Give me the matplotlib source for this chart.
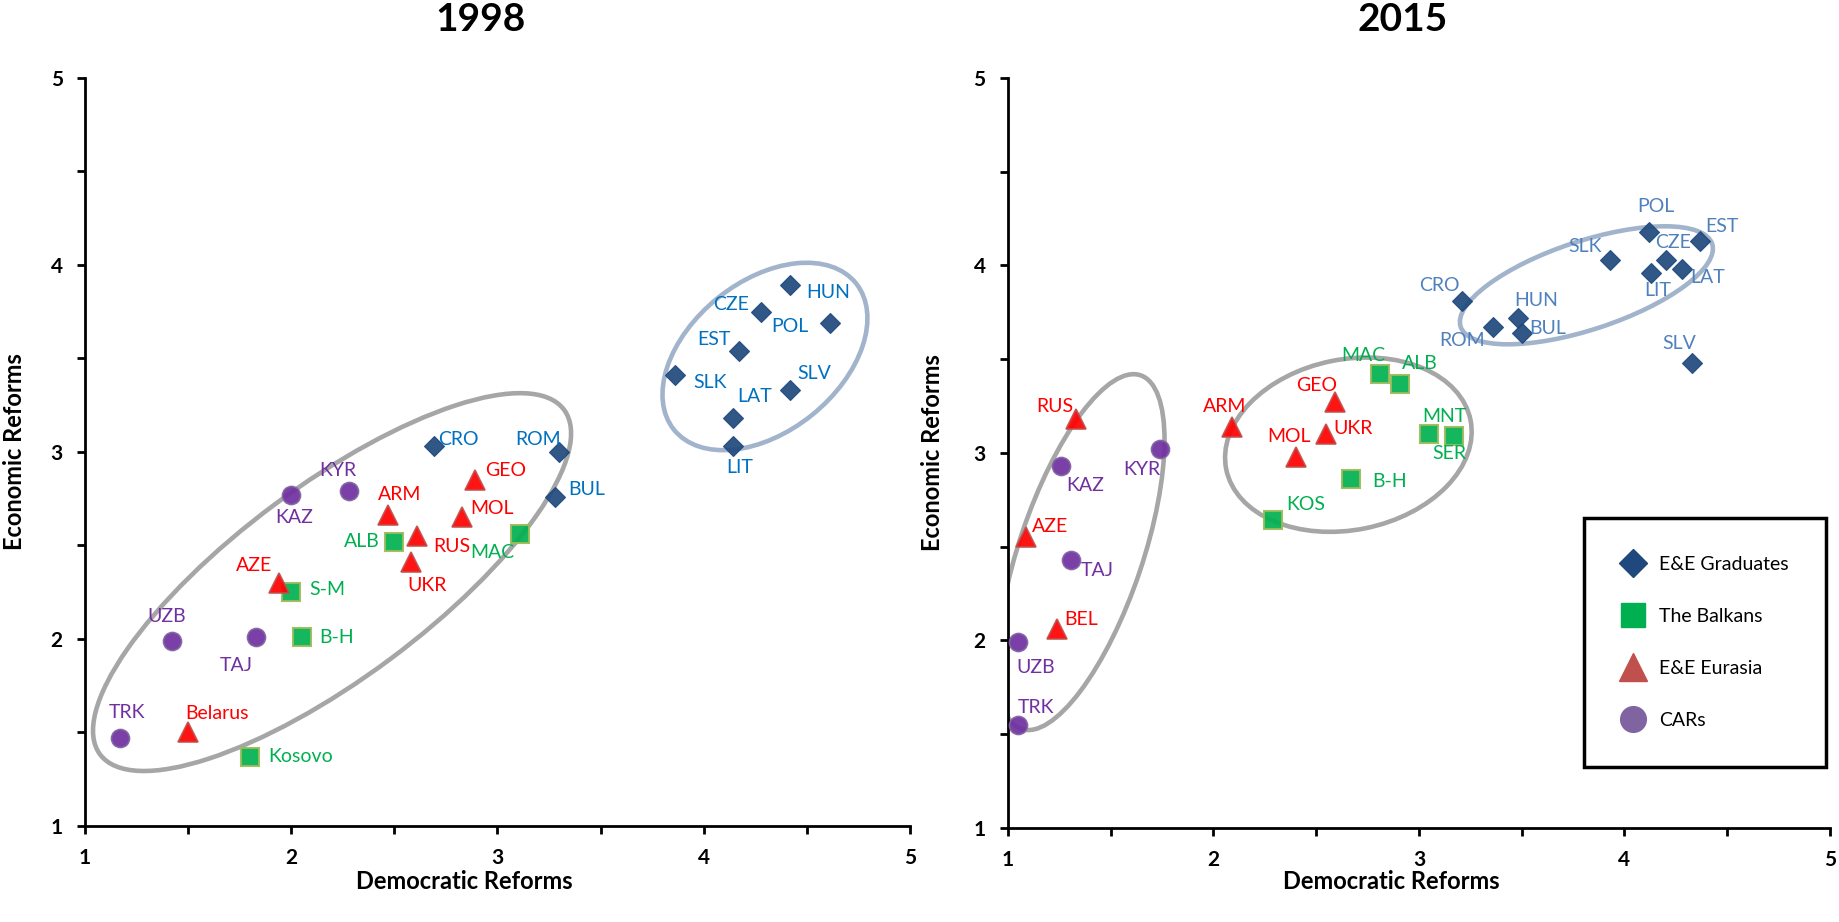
import numpy as np
import matplotlib
matplotlib.use('Agg')
import matplotlib.pyplot as plt
from matplotlib.patches import Ellipse
from matplotlib.lines import Line2D
from matplotlib.transforms import ScaledTranslation

plt.rcParams['font.family'] = ['Lato', 'DejaVu Sans']

# ---- data: 1998 ----
grad98_names = ['HUN', 'CZE', 'POL', 'EST', 'SLK', 'SLV', 'LAT', 'LIT', 'CRO', 'ROM', 'BUL']
grad98_x = [4.42, 4.28, 4.61, 4.17, 3.86, 4.42, 4.14, 4.14, 2.69, 3.30, 3.28]
grad98_y = [3.89, 3.75, 3.69, 3.54, 3.41, 3.33, 3.18, 3.03, 3.03, 3.00, 2.76]

balk98_names = ['ALB', 'MAC', 'S-M', 'B-H', 'Kosovo']
balk98_x = [2.50, 3.11, 2.00, 2.05, 1.80]
balk98_y = [2.52, 2.56, 2.25, 2.01, 1.37]

eura98_names = ['GEO', 'ARM', 'MOL', 'RUS', 'UKR', 'AZE', 'Belarus']
eura98_x = [2.89, 2.47, 2.83, 2.61, 2.58, 1.94, 1.50]
eura98_y = [2.85, 2.66, 2.65, 2.55, 2.41, 2.30, 1.50]

cars98_names = ['KYR', 'KAZ', 'UZB', 'TAJ', 'TRK']
cars98_x = [2.28, 2.00, 1.42, 1.83, 1.17]
cars98_y = [2.79, 2.77, 1.99, 2.01, 1.47]

# ---- data: 2015 ----
grad15_names = ['POL', 'EST', 'SLK', 'CZE', 'LIT', 'LAT', 'SLV', 'CRO', 'ROM', 'HUN', 'BUL']
grad15_x = [4.12, 4.37, 3.93, 4.20, 4.13, 4.28, 4.33, 3.21, 3.36, 3.48, 3.50]
grad15_y = [4.18, 4.13, 4.03, 4.03, 3.96, 3.98, 3.48, 3.81, 3.67, 3.72, 3.64]

balk15_names = ['MAC', 'ALB', 'MNT', 'SER', 'B-H', 'KOS']
balk15_x = [2.81, 2.91, 3.05, 3.17, 2.67, 2.29]
balk15_y = [3.42, 3.37, 3.10, 3.09, 2.86, 2.64]

eura15_names = ['RUS', 'ARM', 'GEO', 'UKR', 'MOL', 'AZE', 'BEL']
eura15_x = [1.33, 2.09, 2.59, 2.55, 2.40, 1.09, 1.24]
eura15_y = [3.18, 3.14, 3.27, 3.10, 2.98, 2.55, 2.06]

cars15_names = ['KYR', 'KAZ', 'TAJ', 'UZB', 'TRK']
cars15_x = [1.74, 1.26, 1.31, 1.05, 1.05]
cars15_y = [3.02, 2.93, 2.43, 1.99, 1.55]

group_names = ['E&E Graduates', 'The Balkans', 'E&E Eurasia', 'CARs']

# ---- label placement (pixel offsets, alignment) ----
lab98 = {
    'HUN': (16, -7, 'left'), 'CZE': (-12, 7, 'right'), 'POL': (-21, -4, 'right'),
    'EST': (-8, 11, 'right'), 'SLK': (19, -7, 'left'), 'SLV': (7, 17, 'left'),
    'LAT': (5, 22, 'left'), 'LIT': (7, -21, 'center'), 'CRO': (5, 7, 'left'),
    'ROM': (2, 12, 'right'), 'BUL': (13, 7, 'left'),
    'ALB': (-15, 0, 'right'), 'MAC': (-6, -18, 'right'), 'S-M': (18, 3, 'left'),
    'B-H': (18, 0, 'left'), 'Kosovo': (18, 0, 'left'),
    'GEO': (10, 9, 'left'), 'ARM': (11, 21, 'center'), 'MOL': (8, 9, 'left'),
    'RUS': (16, -10, 'left'), 'UKR': (16, -23, 'center'), 'AZE': (-7, 17, 'right'),
    'Belarus': (-3, 19, 'left'),
    'KYR': (-11, 21, 'center'), 'KAZ': (3, -23, 'center'), 'UZB': (-5, 24, 'center'),
    'TAJ': (-20, -28, 'center'), 'TRK': (7, 26, 'center'),
}
lab15 = {
    'POL': (7, 25, 'center'), 'EST': (5, 15, 'left'), 'SLK': (-8, 13, 'right'),
    'CZE': (8, 17, 'center'), 'LIT': (7, -18, 'center'), 'LAT': (8, -8, 'left'),
    'SLV': (-13, 19, 'center'), 'CRO': (-2, 16, 'right'), 'ROM': (-8, -13, 'right'),
    'HUN': (-3, 17, 'left'), 'BUL': (8, 4, 'left'),
    'MAC': (-17, 19, 'center'), 'ALB': (2, 20, 'left'), 'MNT': (15, 18, 'center'),
    'SER': (-4, -17, 'center'), 'B-H': (21, -2, 'left'), 'KOS': (13, 16, 'left'),
    'RUS': (-2, 13, 'right'), 'ARM': (-7, 20, 'center'), 'GEO': (-18, 17, 'center'),
    'UKR': (7, 6, 'left'), 'MOL': (-7, 20, 'center'), 'AZE': (6, 11, 'left'),
    'BEL': (7, 10, 'left'),
    'KYR': (0, -20, 'right'), 'KAZ': (5, -19, 'left'), 'TAJ': (9, -11, 'left'),
    'UZB': (-2, -25, 'left'), 'TRK': (0, 17, 'left'),
}

# marker styles per group
styles = [
    dict(marker='D', ms=10.5, mfc='#1F497D', mec='#1F497D', mew=0.8),
    dict(marker='s', ms=12.5, mfc='#00B050', mec='#9BBB59', mew=1.5),
    dict(marker='^', ms=14, mfc='#FF0000', mec='#C0504D', mew=1.2),
    dict(marker='o', ms=13, mfc='#7030A0', mec='#8064A2', mew=1.2),
]

fig = plt.figure(figsize=(18.39, 9.22), dpi=100)
ax1 = fig.add_axes([0.0462, 0.1041, 0.4486, 0.8116])
ax2 = fig.add_axes([0.5480, 0.1020, 0.4471, 0.8135])


def draw_panel(ax, groups, labels, label_colors, ellipses, title):
    for ell in ellipses:
        cx, cy, a, b, ang, col = ell
        e = Ellipse((0, 0), 2 * a, 2 * b, angle=ang, fill=False, edgecolor=col,
                    linewidth=3.3, zorder=1,
                    transform=ScaledTranslation(cx, cy, ax.transData))
        ax.add_artist(e)
    for gi, (names, xs, ys) in enumerate(groups):
        st = styles[gi]
        ax.plot(xs, ys, linestyle='none', alpha=0.92, zorder=3, **st)
        for n, x, y in zip(names, xs, ys):
            dx, dy, ha = labels[n]
            ax.annotate(n, (x, y), xytext=(dx, dy), textcoords='offset pixels',
                        ha=ha, va='center', fontsize=14, color=label_colors[gi],
                        zorder=4)
    ax.set_xlim(1, 5)
    ax.set_ylim(1, 5)
    ax.set_xticks(np.arange(1, 5.01, 0.5))
    ax.set_yticks(np.arange(1, 5.01, 0.5))
    ticklabs = [str(int(v)) if v == int(v) else '' for v in np.arange(1, 5.01, 0.5)]
    ax.set_xticklabels(ticklabs, fontsize=15, fontweight='bold')
    ax.set_yticklabels(ticklabs, fontsize=15, fontweight='bold')
    ax.tick_params(direction='out', length=6, width=2, pad=10, color='black')
    for s in ['top', 'right']:
        ax.spines[s].set_visible(False)
    for s in ['left', 'bottom']:
        ax.spines[s].set_linewidth(2)
        ax.spines[s].set_color('black')
    ax.set_xlabel('Democratic Reforms', fontsize=17, fontweight='bold')
    ax.set_ylabel('Economic Reforms', fontsize=17, fontweight='bold')
    ax.text(0.48, 1.078, title, transform=ax.transAxes, ha='center', va='center',
            fontsize=28, fontweight='bold')


groups98 = [(grad98_names, grad98_x, grad98_y), (balk98_names, balk98_x, balk98_y),
            (eura98_names, eura98_x, eura98_y), (cars98_names, cars98_x, cars98_y)]
groups15 = [(grad15_names, grad15_x, grad15_y), (balk15_names, balk15_x, balk15_y),
            (eura15_names, eura15_x, eura15_y), (cars15_names, cars15_x, cars15_y)]

# ellipses: centre (data), semi-axes (px), angle, colour
ell98 = [(2.198, 2.304, 289, 96.5, 36.6, '#A6A6A6'),
         (4.297, 3.510, 116.8, 75.1, 38.8, '#A2B4CC')]
ell15 = [(1.356, 2.471, 186.6, 61.9, 71.4, '#A6A6A6'),
         (2.657, 3.044, 124.6, 85.3, 11.4, '#A6A6A6'),
         (3.815, 3.894, 132.4, 44.2, 18.25, '#A2B4CC')]

draw_panel(ax1, groups98, lab98, ['#0070C0', '#00B050', '#FF0000', '#7030A0'], ell98, '1998')
draw_panel(ax2, groups15, lab15, ['#4F81BD', '#00B050', '#FF0000', '#7030A0'], ell15, '2015')

for ax, xl, yl, xy in [(ax1, 0.46, -0.072, -0.059), (ax2, 0.466, -0.077, -0.056)]:
    ax.xaxis.set_label_coords(xl, xy)
    ax.yaxis.set_label_coords(yl, 0.5)

handles = [
    Line2D([], [], linestyle='none', marker='D', ms=14, mfc='#1F497D', mec='#1F497D'),
    Line2D([], [], linestyle='none', marker='s', ms=17, mfc='#00B050', mec='#00B050'),
    Line2D([], [], linestyle='none', marker='^', ms=20, mfc='#C0504D', mec='#C0504D'),
    Line2D([], [], linestyle='none', marker='o', ms=18.5, mfc='#8064A2', mec='#8064A2'),
]
leg = ax2.legend(handles, group_names, loc='upper left',
                 bbox_to_anchor=(1584 / 1839, 1 - 518 / 922), bbox_transform=fig.transFigure,
                 fontsize=14, frameon=True, fancybox=False, framealpha=1,
                 borderpad=1.95, labelspacing=1.8, handlelength=1.1, handletextpad=0.8,
                 borderaxespad=0)
leg.get_frame().set_edgecolor('black')
leg.get_frame().set_linewidth(2.5)

fig.savefig('out.png', dpi=100)
